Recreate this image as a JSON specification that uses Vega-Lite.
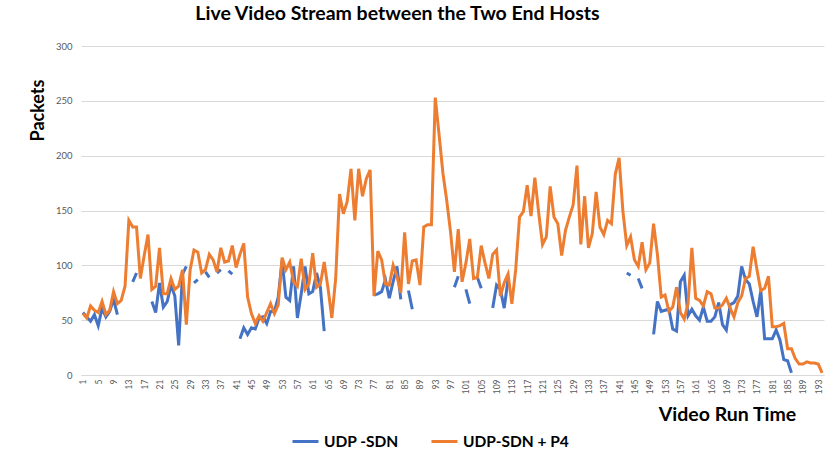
{
  "$schema": "https://vega.github.io/schema/vega-lite/v6.json",
  "width": 743,
  "height": 329,
  "autosize": "none",
  "padding": {"left": 81, "top": 46, "right": 2, "bottom": 89},
  "background": "white",
  "config": {"view": {"stroke": null}, "font": "Lato"},
  "title": {"text": "Live Video Stream between the Two End Hosts", "font": "Lato", "fontSize": 19.5, "fontWeight": "bold", "color": "#000000", "anchor": "middle", "dx": -55, "offset": 17},
  "data": {"values": [
{"t":1,"a":57,"b":56},{"t":2,"a":53,"b":52},{"t":3,"a":49,"b":63},{"t":4,"a":55,"b":59},{"t":5,"a":45,"b":57},{"t":6,"a":61,"b":67},{"t":7,"a":53,"b":55},{"t":8,"a":58,"b":59},{"t":9,"a":69,"b":76},{"t":10,"a":55,"b":65},
{"t":11,"a":null,"b":68},{"t":12,"a":null,"b":81},{"t":13,"a":null,"b":141},{"t":14,"a":85,"b":135},{"t":15,"a":93,"b":135},{"t":16,"a":null,"b":88},{"t":17,"a":null,"b":109},{"t":18,"a":null,"b":128},{"t":19,"a":67,"b":78},{"t":20,"a":57,"b":81},
{"t":21,"a":84,"b":116},{"t":22,"a":62,"b":74},{"t":23,"a":67,"b":74},{"t":24,"a":82,"b":88},{"t":25,"a":72,"b":78},{"t":26,"a":27,"b":81},{"t":27,"a":92,"b":96},{"t":28,"a":99,"b":46},{"t":29,"a":null,"b":96},{"t":30,"a":84,"b":114},
{"t":31,"a":87,"b":112},{"t":32,"a":null,"b":93},{"t":33,"a":94,"b":96},{"t":34,"a":89,"b":110},{"t":35,"a":null,"b":105},{"t":36,"a":93,"b":94},{"t":37,"a":96,"b":116},{"t":38,"a":null,"b":103},{"t":39,"a":95,"b":104},{"t":40,"a":92,"b":118},
{"t":41,"a":null,"b":98},{"t":42,"a":33,"b":110},{"t":43,"a":43,"b":120},{"t":44,"a":37,"b":71},{"t":45,"a":43,"b":56},{"t":46,"a":42,"b":47},{"t":47,"a":52,"b":54},{"t":48,"a":53,"b":49},{"t":49,"a":47,"b":57},{"t":50,"a":58,"b":65},
{"t":51,"a":58,"b":56},{"t":52,"a":71,"b":64},{"t":53,"a":104,"b":107},{"t":54,"a":71,"b":96},{"t":55,"a":68,"b":103},{"t":56,"a":99,"b":85},{"t":57,"a":52,"b":81},{"t":58,"a":74,"b":106},{"t":59,"a":99,"b":78},{"t":60,"a":74,"b":83},
{"t":61,"a":76,"b":111},{"t":62,"a":93,"b":80},{"t":63,"a":80,"b":83},{"t":64,"a":40,"b":103},{"t":65,"a":null,"b":79},{"t":66,"a":null,"b":52},{"t":67,"a":null,"b":88},{"t":68,"a":null,"b":165},{"t":69,"a":null,"b":147},{"t":70,"a":null,"b":158},
{"t":71,"a":null,"b":188},{"t":72,"a":null,"b":141},{"t":73,"a":null,"b":188},{"t":74,"a":null,"b":163},{"t":75,"a":null,"b":179},{"t":76,"a":null,"b":187},{"t":77,"a":73,"b":72},{"t":78,"a":74,"b":113},{"t":79,"a":76,"b":105},{"t":80,"a":87,"b":83},
{"t":81,"a":70,"b":82},{"t":82,"a":85,"b":100},{"t":83,"a":99,"b":90},{"t":84,"a":69,"b":75},{"t":85,"a":null,"b":130},{"t":86,"a":77,"b":83},{"t":87,"a":60,"b":104},{"t":88,"a":null,"b":105},{"t":89,"a":null,"b":82},{"t":90,"a":null,"b":135},
{"t":91,"a":null,"b":137},{"t":92,"a":null,"b":137},{"t":93,"a":null,"b":253},{"t":94,"a":null,"b":219},{"t":95,"a":null,"b":184},{"t":96,"a":null,"b":159},{"t":97,"a":null,"b":130},{"t":98,"a":80,"b":94},{"t":99,"a":90,"b":133},{"t":100,"a":null,"b":85},
{"t":101,"a":78,"b":102},{"t":102,"a":65,"b":124},{"t":103,"a":null,"b":88},{"t":104,"a":89,"b":89},{"t":105,"a":79,"b":118},{"t":106,"a":null,"b":102},{"t":107,"a":null,"b":88},{"t":108,"a":61,"b":110},{"t":109,"a":82,"b":114},{"t":110,"a":78,"b":72},
{"t":111,"a":61,"b":84},{"t":112,"a":87,"b":92},{"t":113,"a":null,"b":65},{"t":114,"a":null,"b":96},{"t":115,"a":null,"b":144},{"t":116,"a":null,"b":149},{"t":117,"a":null,"b":173},{"t":118,"a":null,"b":145},{"t":119,"a":null,"b":180},{"t":120,"a":null,"b":148},
{"t":121,"a":null,"b":119},{"t":122,"a":null,"b":126},{"t":123,"a":null,"b":172},{"t":124,"a":null,"b":144},{"t":125,"a":null,"b":138},{"t":126,"a":null,"b":109},{"t":127,"a":null,"b":132},{"t":128,"a":null,"b":144},{"t":129,"a":null,"b":155},{"t":130,"a":null,"b":191},
{"t":131,"a":null,"b":119},{"t":132,"a":null,"b":163},{"t":133,"a":null,"b":116},{"t":134,"a":null,"b":129},{"t":135,"a":null,"b":167},{"t":136,"a":null,"b":135},{"t":137,"a":null,"b":128},{"t":138,"a":null,"b":141},{"t":139,"a":null,"b":138},{"t":140,"a":null,"b":183},
{"t":141,"a":null,"b":198},{"t":142,"a":null,"b":149},{"t":143,"a":93,"b":118},{"t":144,"a":91,"b":126},{"t":145,"a":null,"b":105},{"t":146,"a":88,"b":99},{"t":147,"a":79,"b":121},{"t":148,"a":null,"b":96},{"t":149,"a":null,"b":102},{"t":150,"a":37,"b":138},
{"t":151,"a":67,"b":110},{"t":152,"a":58,"b":71},{"t":153,"a":59,"b":73},{"t":154,"a":60,"b":58},{"t":155,"a":42,"b":62},{"t":156,"a":40,"b":80},{"t":157,"a":85,"b":57},{"t":158,"a":91,"b":51},{"t":159,"a":54,"b":65},{"t":160,"a":60,"b":116},
{"t":161,"a":54,"b":70},{"t":162,"a":50,"b":68},{"t":163,"a":62,"b":63},{"t":164,"a":49,"b":76},{"t":165,"a":49,"b":74},{"t":166,"a":53,"b":61},{"t":167,"a":66,"b":61},{"t":168,"a":46,"b":64},{"t":169,"a":41,"b":70},{"t":170,"a":64,"b":61},
{"t":171,"a":66,"b":53},{"t":172,"a":72,"b":66},{"t":173,"a":99,"b":72},{"t":174,"a":87,"b":88},{"t":175,"a":83,"b":90},{"t":176,"a":67,"b":117},{"t":177,"a":53,"b":96},{"t":178,"a":77,"b":77},{"t":179,"a":33,"b":79},{"t":180,"a":33,"b":90},
{"t":181,"a":33,"b":44},{"t":182,"a":41,"b":44},{"t":183,"a":32,"b":45},{"t":184,"a":14,"b":47},{"t":185,"a":13,"b":24},{"t":186,"a":2,"b":24},{"t":187,"a":null,"b":15},{"t":188,"a":null,"b":10},{"t":189,"a":null,"b":10},{"t":190,"a":null,"b":12},
{"t":191,"a":null,"b":11},{"t":192,"a":null,"b":11},{"t":193,"a":null,"b":10},{"t":194,"a":null,"b":2}
  ]},
  "encoding": {
    "x": {"field": "t", "type": "quantitative", "scale": {"domain": [0.5, 194.5], "nice": false, "zero": false},
      "axis": {"values": [1,5,9,13,17,21,25,29,33,37,41,45,49,53,57,61,65,69,73,77,81,85,89,93,97,101,105,109,113,117,121,125,129,133,137,141,145,149,153,157,161,165,169,173,177,181,185,189,193],
        "labelAngle": -90, "labelFontSize": 8.5, "labelColor": "#595959", "labelPadding": 4, "ticks": false, "grid": false,
        "domain": true, "domainColor": "#d9d9d9", "domainWidth": 1,
        "title": "Video Run Time", "titleFontSize": 19.5, "titleFontWeight": "bold", "titleColor": "#000000",
        "titleX": 646, "titleY": 39, "titleAlign": "center", "titleBaseline": "middle"}}
  },
  "layer": [
    {
      "mark": {"type": "line", "strokeWidth": 3, "invalid": "break-paths-filter-domains"},
      "encoding": {
        "y": {"field": "a", "type": "quantitative", "scale": {"domain": [0, 300], "nice": false},
          "axis": {"values": [0,50,100,150,200,250,300], "labelFontSize": 9.5, "labelColor": "#595959", "labelPadding": 9, "ticks": false, "domain": false,
            "gridColor": "#d9d9d9", "gridWidth": 1,
            "title": "Packets", "titleFontSize": 18, "titleFontWeight": "bold", "titleColor": "#000000",
            "titleX": -43, "titleY": 64, "titleAngle": -90, "titleAlign": "center", "titleBaseline": "middle"}},
        "color": {"datum": "UDP -SDN", "type": "nominal",
          "scale": {"domain": ["UDP -SDN", "UDP-SDN + P4"], "range": ["#4472C4", "#ED7D31"]},
          "legend": {"title": null, "orient": "none", "legendX": 210, "legendY": 381, "direction": "horizontal",
            "symbolType": "stroke", "symbolStrokeWidth": 3, "symbolSize": 676, "labelFontSize": 15.5, "labelFontWeight": "bold",
            "labelColor": "#000000", "labelOffset": 4, "columnPadding": 26}}
      }
    },
    {
      "mark": {"type": "line", "strokeWidth": 3, "invalid": "break-paths-filter-domains"},
      "encoding": {
        "y": {"field": "b", "type": "quantitative",
          "axis": {"values": [0,50,100,150,200,250,300], "labelFontSize": 9.5, "labelColor": "#595959", "labelPadding": 9, "ticks": false, "domain": false,
            "gridColor": "#d9d9d9", "gridWidth": 1,
            "title": "Packets", "titleFontSize": 18, "titleFontWeight": "bold", "titleColor": "#000000",
            "titleX": -43, "titleY": 64, "titleAngle": -90, "titleAlign": "center", "titleBaseline": "middle"}},
        "color": {"datum": "UDP-SDN + P4", "type": "nominal"}
      }
    }
  ]
}
